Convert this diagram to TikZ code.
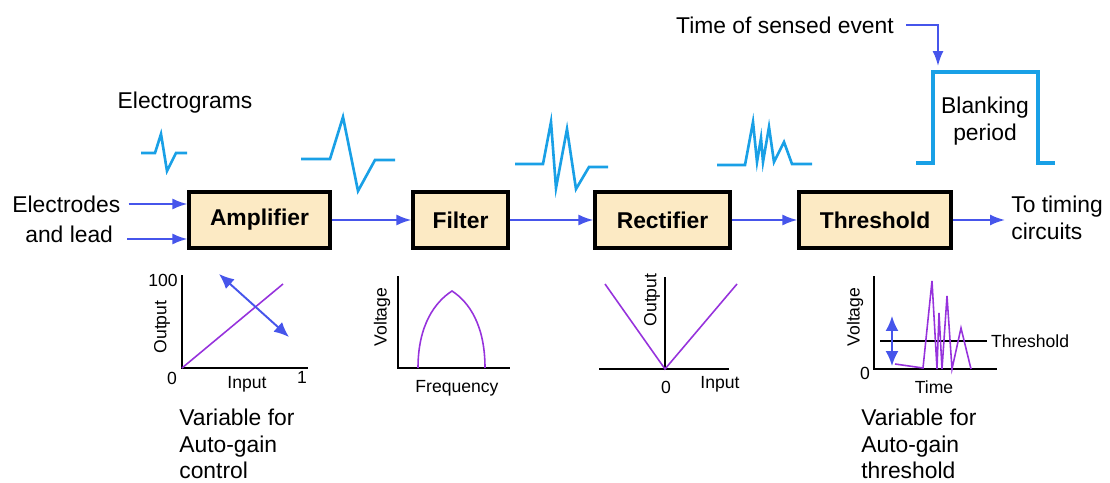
\documentclass[tikz,border=0pt]{standalone}
\usepackage{fontspec}
\setmainfont{Liberation Sans}
\usetikzlibrary{arrows.meta}
\definecolor{arrowblue}{RGB}{70,85,235}
\definecolor{egmblue}{RGB}{25,160,230}
\definecolor{plotpurple}{RGB}{150,50,220}
\definecolor{boxfill}{RGB}{252,234,196}
\tikzset{
    block/.style={draw, line width=1.8pt, fill=boxfill, minimum height=1.12cm, inner sep=0pt, font=\fontsize{13}{15}\selectfont\bfseries},
    flow/.style={arrowblue, line width=1.1pt, -{Latex[length=3mm, width=2.2mm]}},
    dflow/.style={arrowblue, line width=1.1pt, {Latex[length=3mm, width=2.6mm]}-{Latex[length=3mm, width=2.6mm]}},
    egm/.style={egmblue, line width=1.5pt},
    axis/.style={line width=1.3pt},
    trace/.style={plotpurple, line width=0.9pt},
    biglabel/.style={font=\fontsize{13}{15}\selectfont, align=left, inner sep=0pt},
    smalllabel/.style={font=\fontsize{10}{12}\selectfont, inner sep=0pt}
}

\begin{document}
\begin{tikzpicture}[x=0.02cm, y=-0.02cm]

	\useasboundingbox (0,0) rectangle (1110,483);

	% signal chain
	\node[block, minimum width=2.82cm] (amp)  at (259.5,220) {Amplifier};
	\node[block, minimum width=1.90cm] (filt) at (460.5,220) {Filter};
	\node[block, minimum width=2.70cm] (rect) at (662.5,220) {Rectifier};
	\node[block, minimum width=3.04cm] (thr)  at (875,220)   {Threshold};

	\draw[flow] (amp) -- (filt);
	\draw[flow] (filt) -- (rect);
	\draw[flow] (rect) -- (thr);

	\node[biglabel, anchor=west] (el)   at (12,204) {Electrodes};
	\node[biglabel, anchor=west] (lead) at (25,234) {and lead};
	\draw[flow] ([xshift=0.16cm]el.east) -- (el.east -| amp.west);
	\draw[flow] ([xshift=0.28cm, yshift=-0.1cm]lead.east) -- ([yshift=-0.1cm]lead.east -| amp.west);

	\node[biglabel, anchor=west] (ttc) at (1011,218) {To timing\\circuits};
	\draw[flow, shorten >=0.12cm] (thr.east) -- (thr.east -| ttc.west);

	% electrograms
	\node[biglabel] (egmlbl) at (185,103) {Electrograms};
	\draw[egm] (141,153) -- (155,153) -- (161,134) -- (167,171) -- (176,153) -- (187,153);
	\draw[egm] (301,159) -- (330,159) -- (343,117) -- (358,191) -- (375,160) -- (395,160);
	\draw[egm] (515,164) -- (543,164) -- (551,122) -- (556,188) -- (567,129) -- (576,189) -- (589,167) -- (608,167);
	\draw[egm] (717,165) -- (745,165) -- (753,122) -- (757,162) -- (761,138) -- (763,162) -- (769,127) -- (774,162) -- (784,142) -- (792,164) -- (812,164);

	% blanking
	\node[biglabel] (tse) at (785,25) {Time of sensed event};
	\coordinate (blank) at (938,66);
	\draw[flow] ([xshift=0.24cm]tse.east) -| (blank);
	\draw[egm, line width=2.4pt] (916,163) -- (933,163) -- (933,72) -- (1038,72) -- (1038,163) -- (1055,163);
	\node[biglabel, align=center] (blk) at (985,121) {Blanking\\period};

	% amplifier graph
	\draw[axis] (182,275) -- (182,368) -- (308,368);
	\draw[trace] (182,368) -- (283,284);
	\draw[dflow] (219,274) -- (289,337);
	\node[smalllabel, anchor=east] (ampmax) at (178,280) {100};
	\node[smalllabel] (ampzero) at (172,378) {0};
	\node[smalllabel] (ampin) at (247,384) {Input};
	\node[smalllabel] (ampone) at (302,377) {1};
	\node[smalllabel, rotate=90] (ampout) at (162,327) {Output};
	\node[biglabel, anchor=north west] (ampvar) at (179,409) {Variable for\\Auto-gain\\control};

	% filter graph
	\draw[axis] (398,276) -- (398,368) -- (510,368);
	\draw[trace] (418,368) .. controls (418,325) and (435,302) .. (452,291) .. controls (469,302) and (485,325) .. (485,368);
	\node[smalllabel, rotate=90] (filtv) at (382,317) {Voltage};
	\node[smalllabel] (filtf) at (457,388) {Frequency};

	% rectifier graph
	\draw[axis] (665,277) -- (665,369);
	\draw[axis] (599,369) -- (729,369);
	\draw[trace] (605,284) -- (665,369) -- (737,284);
	\node[smalllabel, rotate=90] (rectout) at (652,300) {Output};
	\node[smalllabel] (rectzero) at (666,387) {0};
	\node[smalllabel] (rectin) at (720,384) {Input};

	% threshold graph
	\draw[axis] (874,276) -- (874,369) -- (997,369);
	\draw[line width=0.6pt] (880,341) -- (987,341) node[smalllabel, anchor=west, xshift=2pt] (thrlvl) {Threshold};
	\draw[dflow] (892,316) -- (892,366);
	\draw[trace] (895,364) -- (923,368) -- (932,281) -- (937,369) -- (939,313) -- (942,369) -- (947,296) -- (952,369) -- (961,328) -- (971,369);
	\node[smalllabel, rotate=90] (thrv) at (855,317) {Voltage};
	\node[smalllabel] (thrzero) at (865,373) {0};
	\node[smalllabel] (thrt) at (934,387) {Time};
	\node[biglabel, anchor=north west] (thrvar) at (861,409) {Variable for\\Auto-gain\\threshold};

\end{tikzpicture}
\end{document}
